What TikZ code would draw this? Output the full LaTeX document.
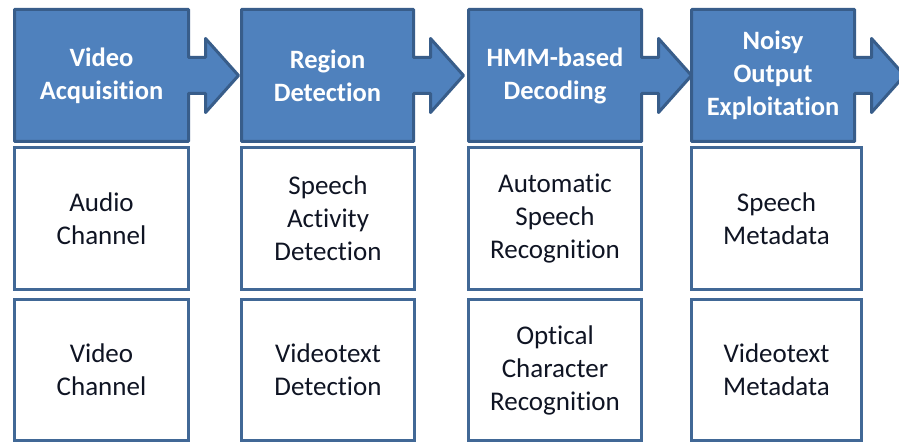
\documentclass[tikz,border=0pt]{standalone}
\usepackage{fontspec}
\setmainfont{Carlito}[Ligatures=NoCommon]
\usetikzlibrary{calc,backgrounds}
\definecolor{hdrfill}{RGB}{79,129,189}
\definecolor{hdrline}{RGB}{56,93,138}
\definecolor{boxline}{RGB}{65,104,150}
\definecolor{txt}{RGB}{15,20,35}
\tikzset{
  hdr/.style={inner sep=0pt, outer sep=0pt, align=center, text=white,
    font=\fontsize{26.5}{33}\selectfont\bfseries},
  hdrshape/.style={fill=hdrfill, draw=hdrline, line width=3pt, line join=round},
  cell/.style={draw=boxline, fill=white, line width=3pt, inner sep=0pt, outer sep=0pt,
    align=center, text=txt, font=\fontsize{27}{33}\selectfont}
}
\newcommand{\hdrarrow}[1]{%
  \draw[hdrshape] (#1.north west) -- (#1.north east)
    -- ($(#1.east)+(0pt,18pt)$) -- ($(#1.east)+(17pt,18pt)$)
    -- ($(#1.east)+(17pt,37pt)$) -- ($(#1.east)+(50pt,0pt)$)
    -- ($(#1.east)+(17pt,-37pt)$) -- ($(#1.east)+(17pt,-18pt)$)
    -- ($(#1.east)+(0pt,-18pt)$) -- (#1.south east) -- (#1.south west) -- cycle;}
\begin{document}
\begin{tikzpicture}[x=1pt,y=-1pt]
\clip (0,0) rectangle (899,443);
% headers
\node[hdr, minimum width=174pt, minimum height=132pt] (h1) at (101.5,75.5) {Video\\Acquisition};
\node[hdr, minimum width=172pt, minimum height=132pt] (h2) at (327.5,75.5) {Region\\Detection};
\node[hdr, minimum width=173pt, minimum height=132pt] (h3) at (555,75.5) {HMM-based\\Decoding};
\node[hdr, minimum width=163pt, minimum height=132pt] (h4) at (773,75.5) {Noisy\\Output\\Exploitation};
\begin{scope}[on background layer]
\fill[white] (0,0) rectangle (899,443);
\hdrarrow{h1}
\hdrarrow{h2}
\hdrarrow{h3}
\hdrarrow{h4}
\end{scope}
% row 2
\node[cell, minimum width=174pt, minimum height=142pt] (a1) at (101.5,218.5) {Audio\\Channel};
\node[cell, minimum width=173pt, minimum height=142pt] (a2) at (328,218.5) {Speech\\Activity\\Detection};
\node[cell, minimum width=173pt, minimum height=142pt] (a3) at (555,218.5) {Automatic\\Speech\\Recognition};
\node[cell, minimum width=170pt, minimum height=142pt] (a4) at (776.5,218.5) {Speech\\Metadata};
% row 3
\node[cell, minimum width=174pt, minimum height=141pt] (b1) at (101.5,370) {Video\\Channel};
\node[cell, minimum width=173pt, minimum height=141pt] (b2) at (328,370) {Videotext\\Detection};
\node[cell, minimum width=173pt, minimum height=141pt] (b3) at (555,370) {Optical\\Character\\Recognition};
\node[cell, minimum width=170pt, minimum height=141pt] (b4) at (776.5,370) {Videotext\\Metadata};
\end{tikzpicture}
\end{document}
